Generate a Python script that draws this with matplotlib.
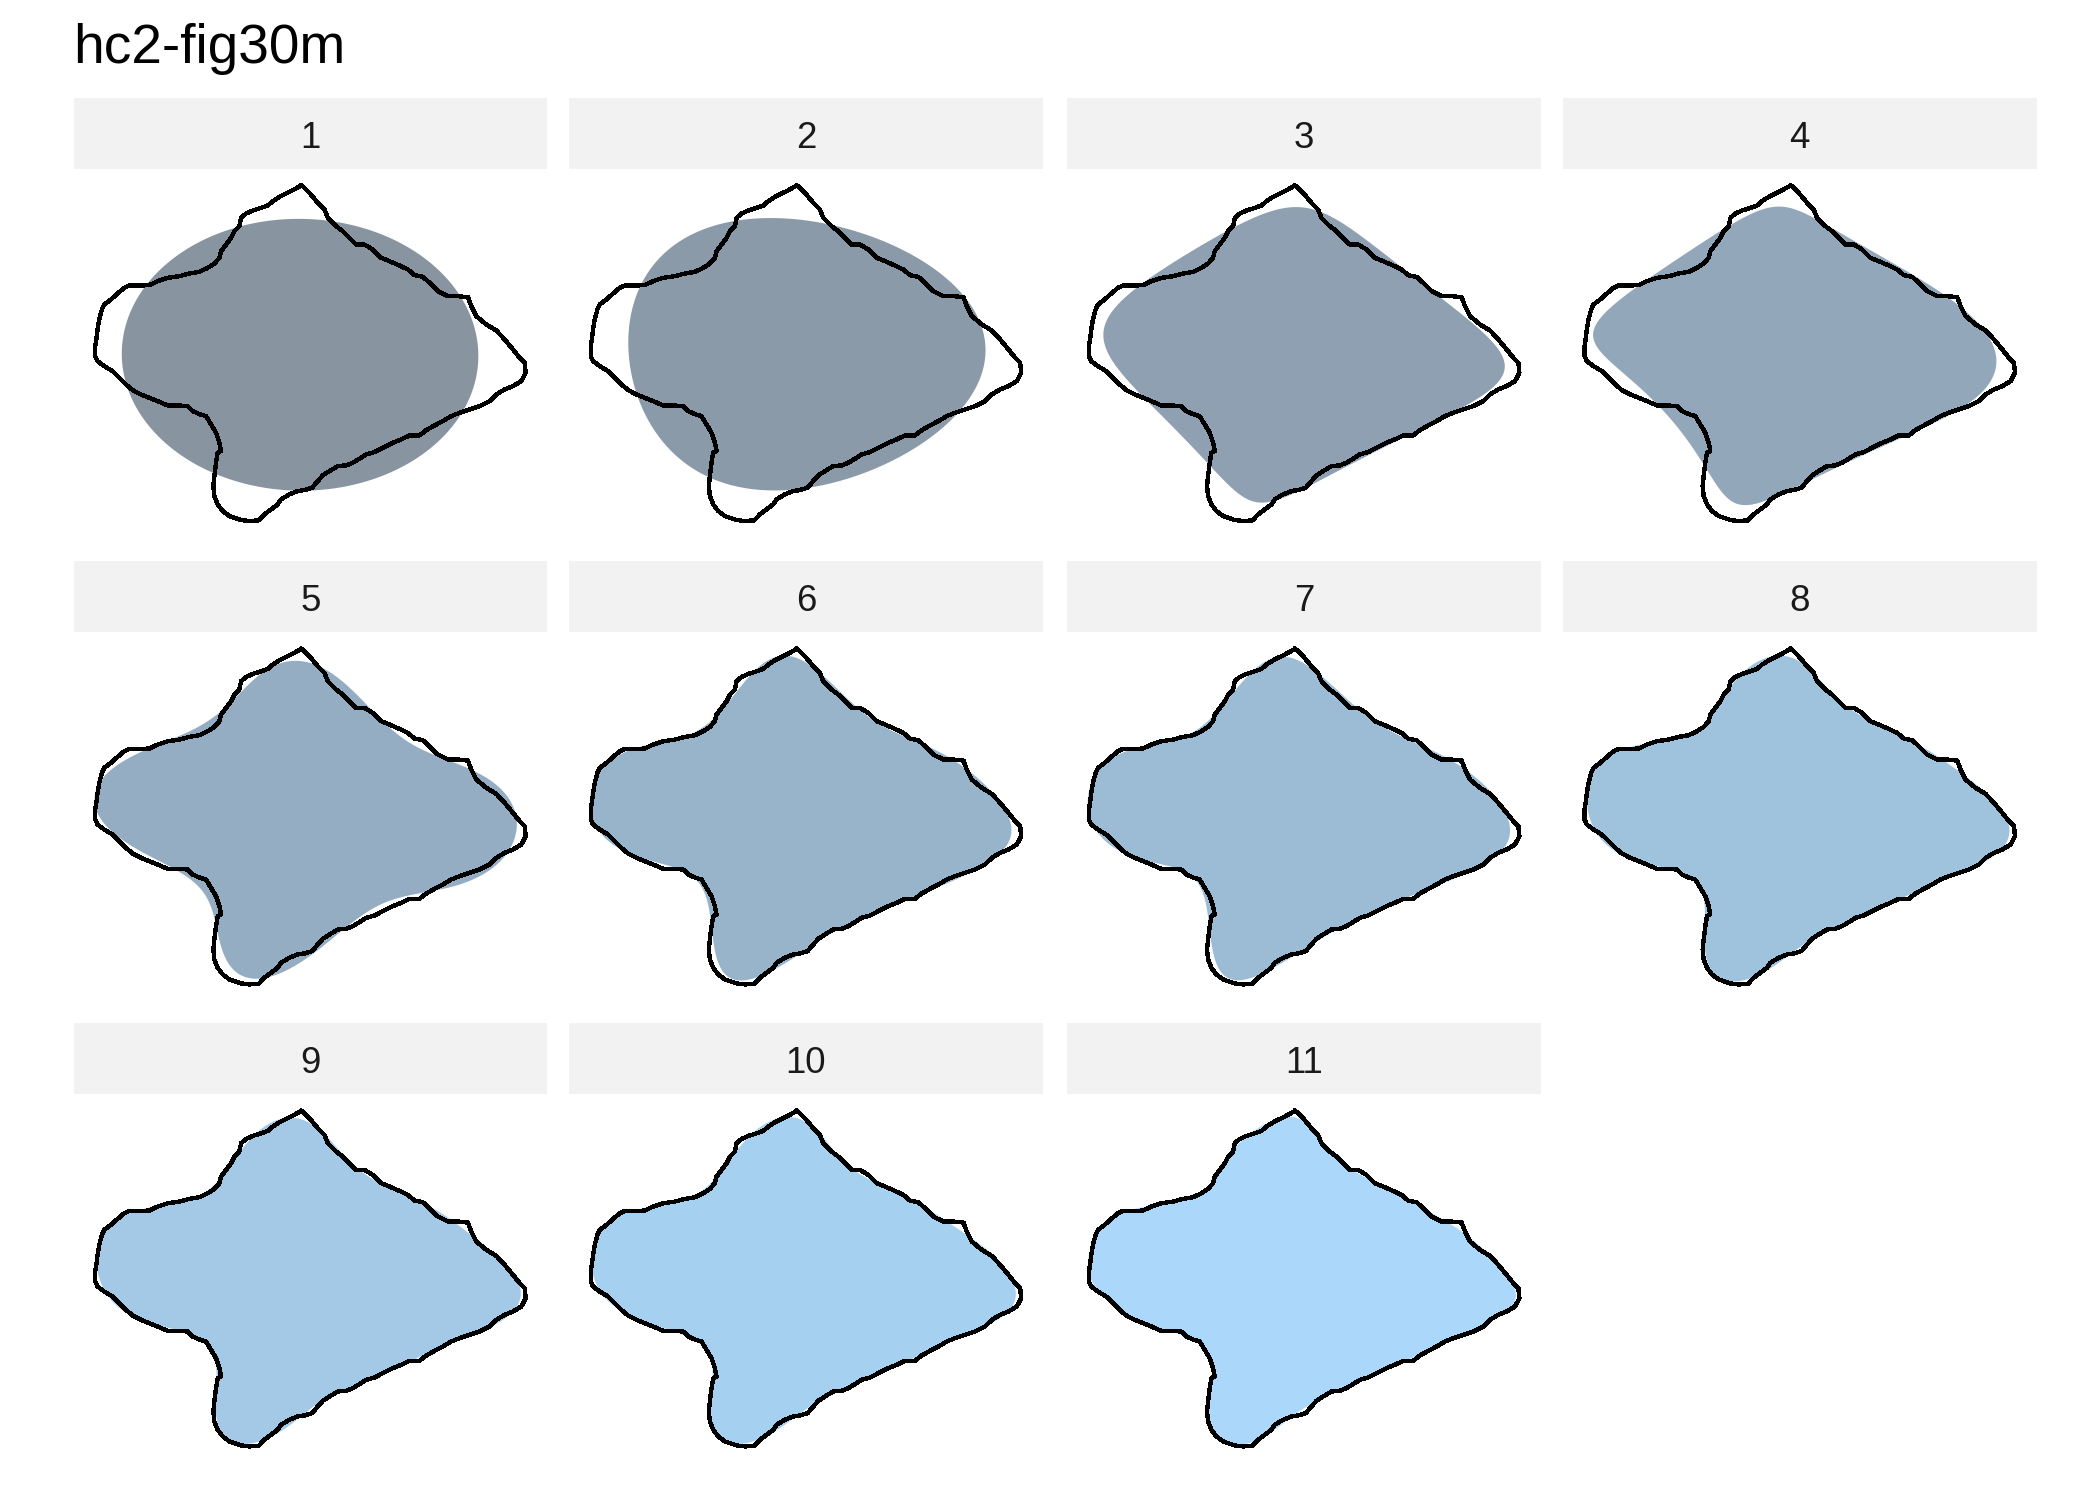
import numpy as np
import matplotlib
matplotlib.use("Agg")
import matplotlib.pyplot as plt

# ---------------- data ----------------
title = "hc2-fig30m"
harmonics = [1, 2, 3, 4, 5, 6, 7, 8, 9, 10, 11]
strip_labels = [str(h) for h in harmonics]

# outline coordinates (traced, arbitrary pixel units, y downwards in source image)
outline_x = [635, 640, 660, 685, 705, 715, 740, 760, 780, 800, 825, 850, 875, 900, 930, 955,
             975, 1000, 1020, 1045, 1075, 1105, 1135, 1145, 1160, 1190, 1220, 1245, 1270, 1290,
             1305, 1308, 1295, 1270, 1245, 1220, 1200, 1170, 1140, 1110, 1085, 1060, 1035, 1010,
             990, 960, 935, 910, 880, 855, 830, 810, 790, 770, 745, 720, 700, 685, 668, 645, 625,
             600, 575, 565, 545, 525, 508, 480, 455, 420, 400, 385, 375, 372, 375, 380, 385, 395,
             390, 380, 365, 350, 330, 310, 295, 265, 235, 205, 180, 155, 130, 110, 90, 70, 45, 25,
             18, 18, 22, 25, 30, 38, 45, 65, 85, 105, 120, 150, 180, 205, 235, 270, 300, 330, 355,
             375, 390, 395, 410, 425, 435, 450, 455, 470, 490, 515, 535, 550, 570, 590, 610, 632]
outline_y = [28, 30, 50, 80, 100, 125, 150, 165, 185, 205, 205, 220, 245, 255, 268, 280,
             297, 302, 320, 345, 360, 360, 363, 390, 420, 445, 463, 490, 520, 545,
             560, 590, 615, 630, 640, 655, 675, 690, 700, 710, 720, 735, 748, 762,
             778, 778, 790, 800, 815, 828, 835, 848, 860, 868, 870, 885, 898, 915, 935, 942, 945,
             955, 970, 985, 1000, 1015, 1033, 1035, 1032, 1020, 1005, 985, 960, 930, 900, 860, 830, 825,
             800, 770, 745, 720, 714, 705, 690, 688, 688, 675, 665, 655, 642, 625, 605, 585, 570, 555,
             540, 510, 485, 460, 430, 400, 385, 370, 352, 335, 328, 328, 327, 315, 305, 300, 292, 287, 275,
             262, 245, 225, 205, 185, 165, 150, 125, 112, 103, 95, 88, 75, 62, 52, 42, 30]

low_colour = "#132B43"
high_colour = "#56B1F7"

# ---------------- helpers ----------------
def hex_to_rgb(h):
    h = h.lstrip("#")
    return np.array([int(h[i:i + 2], 16) / 255 for i in (0, 2, 4)])

M = np.array([[0.4124564, 0.3575761, 0.1804375],
              [0.2126729, 0.7151522, 0.0721750],
              [0.0193339, 0.1191920, 0.9503041]])
WHITE = np.array([0.95047, 1.0, 1.08883])

def rgb_to_lab(c):
    lin = np.where(c <= 0.04045, c / 12.92, ((c + 0.055) / 1.055) ** 2.4)
    xyz = M @ lin / WHITE
    f = np.where(xyz > 216 / 24389, np.cbrt(xyz), (24389 / 27 * xyz + 16) / 116)
    return np.array([116 * f[1] - 16, 500 * (f[0] - f[1]), 200 * (f[1] - f[2])])

def lab_to_rgb(lab):
    L, a, b = lab
    fy = (L + 16) / 116
    fx = fy + a / 500
    fz = fy - b / 200
    f = np.array([fx, fy, fz])
    xyz = np.where(f ** 3 > 216 / 24389, f ** 3, (116 * f - 16) / (24389 / 27)) * WHITE
    lin = np.linalg.solve(M, xyz)
    c = np.where(lin <= 0.0031308, 12.92 * lin, 1.055 * np.clip(lin, 0, None) ** (1 / 2.4) - 0.055)
    return np.clip(c, 0, 1)

lab_lo = rgb_to_lab(hex_to_rgb(low_colour))
lab_hi = rgb_to_lab(hex_to_rgb(high_colour))

def fill_colour(h):
    t = (h - min(harmonics)) / (max(harmonics) - min(harmonics))
    return lab_to_rgb(lab_lo + t * (lab_hi - lab_lo))

ox = np.array(outline_x, float)
oy = -np.array(outline_y, float)

# arc-length parameterised contour for elliptic Fourier reconstruction
cx = np.append(ox, ox[0])
cy = np.append(oy, oy[0])
seg = np.hypot(np.diff(cx), np.diff(cy))
s = np.concatenate([[0], np.cumsum(seg)])
N = 1024
su = np.linspace(0, s[-1], N, endpoint=False)
z = np.interp(su, s, cx) + 1j * np.interp(su, s, cy)
Z = np.fft.fft(z)
freqs = np.fft.fftfreq(N, d=1.0 / N)

def reconstruct(k):
    Zk = np.where(np.abs(freqs) <= k, Z, 0)
    zr = np.fft.ifft(Zk)
    return zr.real, zr.imag

# ---------------- figure ----------------
W, H = 2100, 1500
fig = plt.figure(figsize=(7, 5), dpi=300)
plt.rcParams["font.family"] = ["Liberation Sans", "DejaVu Sans"]

col_left = [73.7, 569.2, 1067.4, 1563.0]
panel_w = 473.5
row_top = [97.8, 561.2, 1023.2]
strip_h = 71.0
panel_h = 369.0

xmin, xmax = ox.min(), ox.max()
ymin, ymax = oy.min(), oy.max()
dx = (xmax - xmin) * 0.05
dy = (ymax - ymin) * 0.05

for i, h in enumerate(harmonics):
    r, c = divmod(i, 4)
    x0 = col_left[c]
    yt = row_top[r]
    # strip
    sax = fig.add_axes([x0 / W, 1 - (yt + strip_h) / H, panel_w / W, strip_h / H])
    sax.set_facecolor("#F2F2F2")
    sax.set_xticks([]); sax.set_yticks([])
    for sp in sax.spines.values():
        sp.set_visible(False)
    sax.text(0.5, 0.296, strip_labels[i], ha="center", va="baseline", fontsize=8.8,
             color="#1A1A1A", transform=sax.transAxes)
    # panel
    ax = fig.add_axes([x0 / W, 1 - (yt + strip_h + panel_h) / H, panel_w / W, panel_h / H])
    rx, ry = reconstruct(h)
    ax.fill(rx, ry, facecolor=fill_colour(h), alpha=0.5, edgecolor="none")
    ax.plot(cx, cy, color="black", lw=0.8, solid_joinstyle="round", antialiased=False)
    ax.set_xlim(xmin - dx, xmax + dx)
    ax.set_ylim(ymin - dy, ymax + dy)
    ax.set_aspect("equal", adjustable="datalim")
    ax.axis("off")

fig.text(73.0 / W, 1 - 63.3 / H, title, ha="left", va="baseline", fontsize=13.2, color="black")

fig.savefig("out.png", dpi=300)
